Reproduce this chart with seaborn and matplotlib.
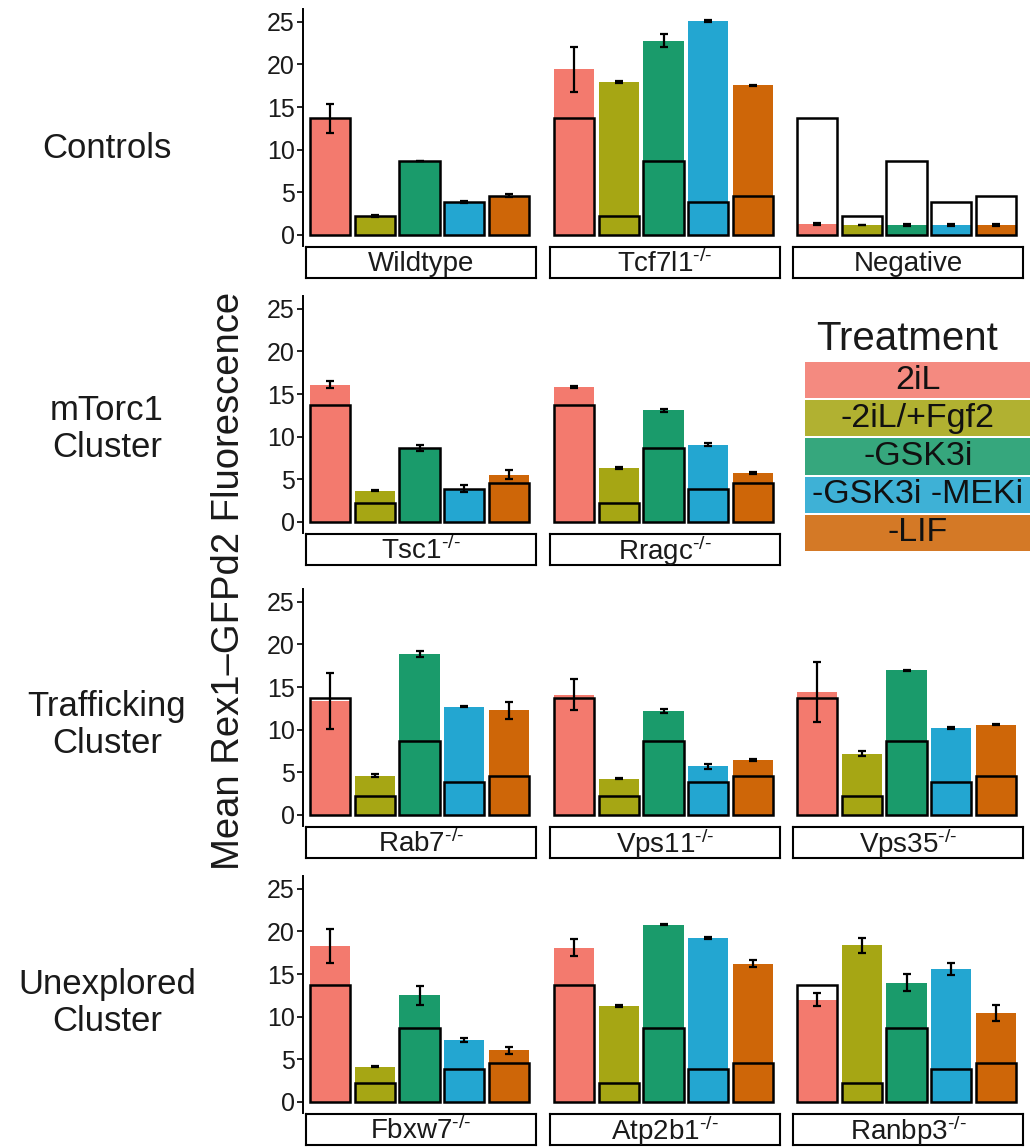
import matplotlib
matplotlib.use("Agg")
import matplotlib.pyplot as plt
import pandas as pd
import seaborn as sns

# ---------------- data ----------------
treatments = ["2iL", "-2iL/+Fgf2", "-GSK3i", "-GSK3i -MEKi", "-LIF"]
wildtype_reference = [13.7, 2.2, 8.7, 3.9, 4.6]

wildtype_mean = [13.7, 2.2, 8.7, 3.9, 4.6]
wildtype_err = [1.7, 0.1, 0.0, 0.1, 0.15]
tcf7l1_mean = [19.45, 17.95, 22.8, 25.1, 17.55]
tcf7l1_err = [2.65, 0.1, 0.8, 0.15, 0.05]
negative_mean = [1.3, 1.2, 1.17, 1.17, 1.17]
negative_err = [0.08, 0.0, 0.07, 0.07, 0.07]
tsc1_mean = [16.1, 3.65, 8.65, 3.9, 5.55]
tsc1_err = [0.45, 0.08, 0.35, 0.4, 0.5]
rragc_mean = [15.8, 6.35, 13.1, 9.05, 5.75]
rragc_err = [0.1, 0.1, 0.15, 0.2, 0.1]
rab7_mean = [13.4, 4.6, 18.85, 12.7, 12.3]
rab7_err = [3.3, 0.2, 0.35, 0.08, 1.0]
vps11_mean = [14.1, 4.25, 12.2, 5.7, 6.45]
vps11_err = [1.85, 0.07, 0.2, 0.3, 0.1]
vps35_mean = [14.4, 7.2, 16.95, 10.2, 10.6]
vps35_err = [3.55, 0.25, 0.08, 0.08, 0.08]
fbxw7_mean = [18.3, 4.15, 12.5, 7.25, 6.05]
fbxw7_err = [2.0, 0.07, 1.15, 0.2, 0.45]
atp2b1_mean = [18.1, 11.25, 20.8, 19.25, 16.2]
atp2b1_err = [1.0, 0.12, 0.07, 0.15, 0.4]
ranbp3_mean = [12.0, 18.35, 14.0, 15.55, 10.45]
ranbp3_err = [0.75, 0.9, 0.95, 0.7, 0.95]

row_labels = ["Controls", "mTorc1\nCluster", "Trafficking\nCluster", "Unexplored\nCluster"]
y_ticks = [0, 5, 10, 15, 20, 25]

sup = r"$^{\text{-/-}}$"
panels = [
    (0, 0, "Wildtype", wildtype_mean, wildtype_err),
    (0, 1, "Tcf7l1" + sup, tcf7l1_mean, tcf7l1_err),
    (0, 2, "Negative", negative_mean, negative_err),
    (1, 0, "Tsc1" + sup, tsc1_mean, tsc1_err),
    (1, 1, "Rragc" + sup, rragc_mean, rragc_err),
    (2, 0, "Rab7" + sup, rab7_mean, rab7_err),
    (2, 1, "Vps11" + sup, vps11_mean, vps11_err),
    (2, 2, "Vps35" + sup, vps35_mean, vps35_err),
    (3, 0, "Fbxw7" + sup, fbxw7_mean, fbxw7_err),
    (3, 1, "Atp2b1" + sup, atp2b1_mean, atp2b1_err),
    (3, 2, "Ranbp3" + sup, ranbp3_mean, ranbp3_err),
]

palette = ["#F37A6E", "#A6A614", "#1A9B6B", "#23A6D1", "#CE6608"]

# ---------------- style ----------------
sns.set_theme(style="white")
plt.rcParams["font.family"] = ["Liberation Sans", "DejaVu Sans"]
plt.rcParams["mathtext.default"] = "regular"
plt.rcParams["mathtext.fontset"] = "custom"
plt.rcParams["mathtext.rm"] = "Liberation Sans"
plt.rcParams["mathtext.it"] = "Liberation Sans"

W, H = 1030, 1147
fig = plt.figure(figsize=(W / 100, H / 100), dpi=100)


def px_axes(x, y, w, h):
    return fig.add_axes([x / W, 1 - (y + h) / H, w / W, h / H])


col_left = [303, 547, 790]
panel_w = 233
row_top = [9, 296, 589, 876]
panel_h = 237
strip_h = 31

for row, col, title, mean, err in panels:
    ax = px_axes(col_left[col], row_top[row], panel_w, panel_h)
    df = pd.DataFrame({"Treatment": treatments, "value": mean})
    sns.barplot(data=df, x="Treatment", y="value", hue="Treatment",
                palette=palette, order=treatments, hue_order=treatments,
                width=0.9, errorbar=None, legend=False, linewidth=0,
                saturation=1, ax=ax)
    ref = pd.DataFrame({"Treatment": treatments, "value": wildtype_reference})
    sns.barplot(data=ref, x="Treatment", y="value", order=treatments,
                width=0.9, errorbar=None, fill=False, color="black",
                linewidth=1.8, ax=ax)
    ax.errorbar(x=list(range(len(treatments))), y=mean, yerr=err, fmt="none",
                ecolor="black", elinewidth=1.6, capsize=3, capthick=1.6,
                zorder=5)
    ax.set_xlim(-0.6, 4.6)
    ax.set_ylim(-1.3, 26.5)
    ax.set_xlabel("")
    ax.set_ylabel("")
    ax.set_xticks([])
    for s in ["top", "right", "bottom"]:
        ax.spines[s].set_visible(False)
    if col == 0:
        ax.spines["left"].set_linewidth(1.4)
        ax.spines["left"].set_color("black")
        ax.set_yticks(y_ticks)
        ax.tick_params(axis="y", length=4, width=1.2, color="black",
                       labelsize=18, pad=2, left=True, labelcolor="#1a1a1a")
    else:
        ax.spines["left"].set_visible(False)
        ax.set_yticks([])
    ax.set_facecolor("none")

    sx = px_axes(col_left[col] + 3, row_top[row] + panel_h + 1, panel_w - 3, strip_h)
    sx.set_xticks([])
    sx.set_yticks([])
    for s in sx.spines.values():
        s.set_visible(True)
        s.set_color("black")
        s.set_linewidth(1.5)
    sx.set_facecolor("white")
    sx.text(0.5, 0.45, title, ha="center", va="center", fontsize=20,
            color="#1a1a1a", transform=sx.transAxes)

# row labels
row_label_y = [148, 429, 725, 1003]
for lab, yy in zip(row_labels, row_label_y):
    fig.text(107 / W, 1 - yy / H, lab, ha="center", va="center", fontsize=25,
             color="#1a1a1a", linespacing=1.15)

# y axis label
fig.text(229 / W, 1 - 581 / H, "Mean Rex1\u2013GFPd2 Fluorescence", rotation=90,
         ha="center", va="center", fontsize=27.5, color="#1a1a1a")

# legend
fig.text(907 / W, 1 - 339 / H, "Treatment", ha="center", va="center",
         fontsize=29, color="#1a1a1a")
lax = px_axes(805, 361, 226, 191)
leg_df = pd.DataFrame({"Treatment": treatments, "key": [1] * len(treatments)})
sns.barplot(data=leg_df, y="Treatment", x="key", hue="Treatment",
            palette=palette, order=treatments, hue_order=treatments,
            orient="h", width=0.95, errorbar=None, legend=False, linewidth=0,
            saturation=1, alpha=0.88, ax=lax)
lax.set_xlim(0, 1)
lax.set_ylim(4.5, -0.5)
lax.axis("off")
for i, t in enumerate(treatments):
    lax.text(0.5, i, t, ha="center", va="center", fontsize=24.5, color="#111111")

fig.savefig("out.png", dpi=100)
